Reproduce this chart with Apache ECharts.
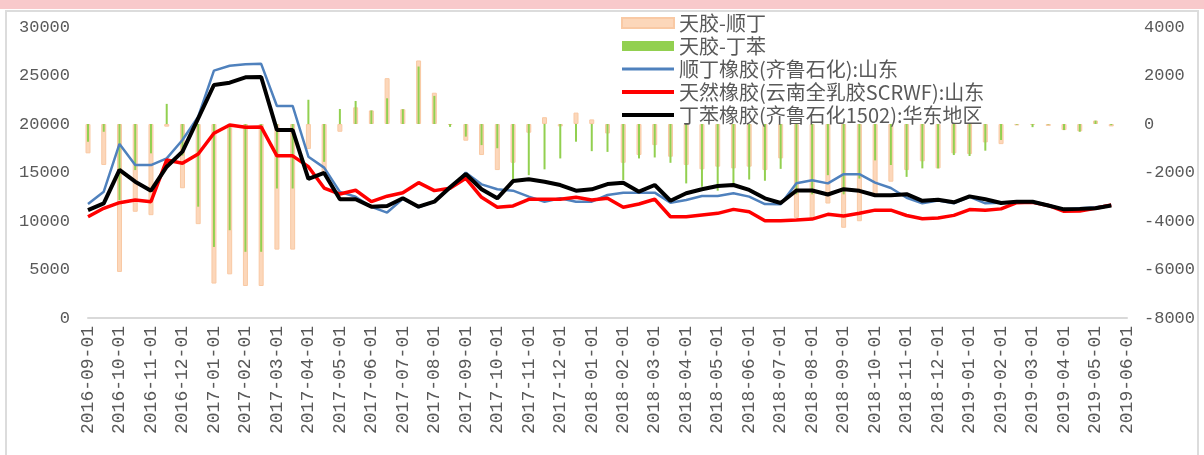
<!DOCTYPE html>
<html>
<head>
<meta charset="utf-8">
<script src="https://cdn.jsdelivr.net/npm/echarts@6/dist/echarts.min.js"></script>
<style>
html, body { margin: 0; padding: 0; background: #fff; }
#band { position: absolute; left: 0; top: 0; width: 1204px; height: 9px; background: #f8c9cb; }
#frame { position: absolute; left: 5px; top: 10px; width: 1194px; height: 460px; border: 2px solid #dcdcdc; box-sizing: border-box; }
#chart { position: absolute; left: 0; top: 0; width: 1204px; height: 455px; }
</style>
</head>
<body>
<div id="band"></div>
<div id="frame"></div>
<div id="chart"></div>
<script>
// semi-monthly dates, only the 1st of each month gets a label
const dates = [
  "2016-09-01", "2016-09-15", "2016-10-01", "2016-10-15", "2016-11-01", "2016-11-15", "2016-12-01", "2016-12-15",
  "2017-01-01", "2017-01-15", "2017-02-01", "2017-02-15", "2017-03-01", "2017-03-15", "2017-04-01", "2017-04-15",
  "2017-05-01", "2017-05-15", "2017-06-01", "2017-06-15", "2017-07-01", "2017-07-15", "2017-08-01", "2017-08-15",
  "2017-09-01", "2017-09-15", "2017-10-01", "2017-10-15", "2017-11-01", "2017-11-15", "2017-12-01", "2017-12-15",
  "2018-01-01", "2018-01-15", "2018-02-01", "2018-02-15", "2018-03-01", "2018-03-15", "2018-04-01", "2018-04-15",
  "2018-05-01", "2018-05-15", "2018-06-01", "2018-06-15", "2018-07-01", "2018-07-15", "2018-08-01", "2018-08-15",
  "2018-09-01", "2018-09-15", "2018-10-01", "2018-10-15", "2018-11-01", "2018-11-15", "2018-12-01", "2018-12-15",
  "2019-01-01", "2019-01-15", "2019-02-01", "2019-02-15", "2019-03-01", "2019-03-15", "2019-04-01", "2019-04-15",
  "2019-05-01", "2019-05-15", "2019-06-01"
];

const seriesNames = [
  "天胶-顺丁",
  "天胶-丁苯",
  "顺丁橡胶(齐鲁石化):山东",
  "天然橡胶(云南全乳胶SCRWF):山东",
  "丁苯橡胶(齐鲁石化1502):华东地区"
];

// right axis bars
const spreadBR = [
  -1210, -1690, -6100, -3620, -3760, -110, -2650, -4130, -6580, -6200, -6680, -6680, -5180, -5180, -1030, -2030,
  -320, 690, 560, 1890, 610, 2620, 1290, -40, -690, -1280, -1900, -1600, -360, 280, -100, 470,
  190, -390, -1600, -1280, -870, -1350, -1690, -1870, -1760, -1830, -1760, -1900, -1420, -3870, -3900, -3280,
  -4280, -4010, -3000, -2380, -1900, -1540, -1830, -1210, -1240, -760, -830, -60, -40, -80, -250, -300,
  140, -100, null
];
const spreadSBR = [
  -730, -320, -3140, -1900, -1210, 830, -1300, -3410, -5070, -4380, -5270, -5270, -2660, -2660, 1000, -1560,
  620, 950, 560, 1060, 610, 2370, 1160, -120, -520, -870, -1000, -2400, -2110, -1870, -1420, -730,
  -1120, -1150, -2310, -1420, -1380, -1600, -2450, -2590, -2750, -2520, -2290, -2340, -1850, -2900, -2900, -2110,
  -2900, -2250, -1500, -1690, -2180, -1830, -1830, -1280, -1320, -1100, -660, -30, -130, -20, -250, -320,
  140, -50, null
];

// left axis lines
const priceBR = [
  11750, 13020, 17940, 15770, 15770, 16460, 18350, 20750, 25500, 26010, 26150, 26200, 21860, 21860, 16630, 15500,
  13000, 12500, 11450, 10870, 12300, 11410, 11990, 13370, 14980, 13780, 13270, 13130, 12510, 11990, 12340, 11990,
  11990, 12680, 12920, 12920, 12920, 11890, 12170, 12580, 12580, 12860, 12510, 11750, 11720, 13900, 14200, 13880,
  14830, 14830, 13950, 13400, 12400, 11820, 12100, 11820, 12480, 11820, 11890, 11990, 11990, 11650, 11200, 11310,
  11410, 11650, null
];
const priceNR = [
  10440, 11310, 11890, 12170, 11990, 16290, 15950, 16910, 19040, 19900, 19660, 19700, 16720, 16720, 15600, 13400,
  12780, 13170, 11990, 12560, 12920, 13950, 13130, 13370, 14400, 12440, 11410, 11550, 12240, 12240, 12240, 12440,
  12170, 12340, 11410, 11750, 12240, 10440, 10440, 10620, 10790, 11200, 10960, 10030, 10020, 10100, 10200, 10690,
  10520, 10790, 11120, 11120, 10570, 10230, 10310, 10580, 11180, 11100, 11250, 11890, 11940, 11600, 11000, 11020,
  11310, 11650, null
];
const priceSBR = [
  11130, 11820, 15260, 14050, 13130, 15600, 17150, 20590, 24020, 24260, 24810, 24850, 19380, 19380, 14350, 14950,
  12240, 12240, 11480, 11550, 12340, 11480, 11990, 13470, 14850, 13270, 12340, 14120, 14300, 14050, 13710, 13130,
  13270, 13810, 13950, 13020, 13710, 12090, 12860, 13270, 13610, 13710, 13200, 12340, 11860, 13150, 13150, 12730,
  13280, 13110, 12650, 12650, 12770, 12080, 12190, 11930, 12540, 12240, 11850, 11990, 11990, 11600, 11200, 11250,
  11310, 11600, null
];

const textColor = "#595959";
const numFont = "'Liberation Mono', monospace";
const plainNumber = (v) => String(v);

const chart = echarts.init(document.getElementById("chart"));

chart.setOption({
  animation: false,
  legend: {
    orient: "vertical",
    left: 620,
    top: 13,
    itemWidth: 52,
    itemHeight: 10,
    itemGap: 3,
    padding: 0,
    textStyle: { fontFamily: "'Noto Sans CJK SC'", fontSize: 20, color: textColor },
    data: [
      { name: seriesNames[0], icon: "rect" },
      { name: seriesNames[1], icon: "rect" },
      // line items: hide the marker, keep the stroke
      { name: seriesNames[2], itemStyle: { opacity: 0 }, lineStyle: { width: 3 } },
      { name: seriesNames[3], itemStyle: { opacity: 0 }, lineStyle: { width: 4 } },
      { name: seriesNames[4], itemStyle: { opacity: 0 }, lineStyle: { width: 4 } }
    ]
  },
  grid: { left: 88, right: 77, top: 27, bottom: 137, containLabel: false },
  xAxis: [
    {
      type: "category",
      data: dates,
      boundaryGap: false,
      axisLine: { lineStyle: { color: "#d9d9d9", width: 2 } },
      axisTick: { show: false },
      axisLabel: {
        rotate: 90,
        margin: 8,
        interval: (i, v) => v.endsWith("-01"),
        color: textColor,
        fontFamily: numFont,
        fontSize: 18
      }
    },
    { type: "category", data: dates, boundaryGap: false, show: false }
  ],
  yAxis: [
    {
      type: "value",
      min: 0,
      max: 30000,
      interval: 5000,
      splitLine: { show: false },
      axisLine: { show: false },
      axisTick: { show: false },
      axisLabel: { margin: 18, color: textColor, fontFamily: numFont, fontSize: 17, formatter: plainNumber }
    },
    {
      type: "value",
      min: -8000,
      max: 4000,
      interval: 2000,
      splitLine: { show: false },
      axisLine: { show: false },
      axisTick: { show: false },
      axisLabel: { margin: 17, color: textColor, fontFamily: numFont, fontSize: 17, formatter: plainNumber }
    }
  ],
  series: [
    {
      name: seriesNames[0],
      type: "bar",
      xAxisIndex: 0,
      yAxisIndex: 1,
      barWidth: 5,
      clip: false,
      itemStyle: { color: "#fcd7ba", borderColor: "#f9c9a4", borderWidth: 1 },
      data: spreadBR
    },
    {
      name: seriesNames[1],
      type: "bar",
      xAxisIndex: 1,
      yAxisIndex: 1,
      barWidth: 2,
      clip: false,
      itemStyle: { color: "#92d050" },
      data: spreadSBR
    },
    {
      name: seriesNames[2],
      type: "line",
      yAxisIndex: 0,
      symbol: "none",
      lineStyle: { color: "#4f81bd", width: 2.5 },
      itemStyle: { color: "#4f81bd" },
      data: priceBR
    },
    {
      name: seriesNames[3],
      type: "line",
      yAxisIndex: 0,
      symbol: "none",
      lineStyle: { color: "#ff0000", width: 3.5 },
      itemStyle: { color: "#ff0000" },
      data: priceNR
    },
    {
      name: seriesNames[4],
      type: "line",
      yAxisIndex: 0,
      symbol: "none",
      lineStyle: { color: "#000000", width: 4 },
      itemStyle: { color: "#000000" },
      data: priceSBR
    }
  ]
});
</script>
</body>
</html>
